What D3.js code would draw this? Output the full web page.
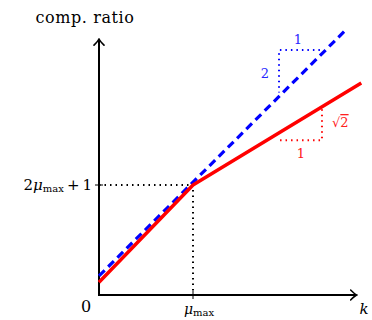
<!DOCTYPE html>
<html>
<head>
<script src="https://d3js.org/d3.v7.min.js"></script>
<style>
  body{margin:0;background:#fff;}
  .axis{stroke:#000;stroke-width:2;fill:none;}
  .guide{stroke:#000;stroke-width:2;stroke-dasharray:1.5,4;fill:none;}
</style>
</head>
<body>
<script>
// data units: k in units of mu_max, ratio in units where 2*mu_max+1 = 3
var muMax = 1, kinkRatio = 3;
var kMax = 2.73, ratioMax = 6.95;
var redLine = [{k:0, r:0.35}, {k:1, r:3}, {k:2.79, r:5.78}];
var blueLine = [{k:0, r:0.52}, {k:2.61, r:7.19}];
var blueTri = [{k:2.35, r:6.68}, {k:1.915, r:6.68}, {k:1.915, r:5.52}];
var redTri = [{k:1.926, r:4.22}, {k:2.372, r:4.22}, {k:2.372, r:5.1}];

var svg = d3.select("body").append("svg").attr("width",372).attr("height",320)
  .attr("font-family","'DejaVu Serif','Liberation Serif',serif");

var x = d3.scaleLinear().domain([0,1]).range([99,193]);
var y = d3.scaleLinear().domain([0,3]).range([295,185]);

svg.append("defs").append("marker")
  .attr("id","arr").attr("viewBox","-6 -6 8 12").attr("markerWidth",8).attr("markerHeight",12)
  .attr("markerUnits","userSpaceOnUse").attr("orient","auto")
  .append("path").attr("d","M-5,-5 Q-1,-1 1,0 Q-1,1 -5,5")
  .attr("fill","none").attr("stroke","#000").attr("stroke-width",1.6).attr("stroke-linecap","round");

var line = d3.line().x(function(d){return x(d.k)}).y(function(d){return y(d.r)});

// guides
svg.append("path").attr("class","guide")
  .attr("d", line([{k:0,r:kinkRatio},{k:muMax,r:kinkRatio},{k:muMax,r:0}]));

// axes
svg.append("line").attr("class","axis").attr("x1",x(0)-1).attr("y1",y(0)).attr("x2",x(kMax)).attr("y2",y(0)).attr("marker-end","url(#arr)");
svg.append("line").attr("class","axis").attr("x1",x(0)).attr("y1",y(0)+1).attr("x2",x(0)).attr("y2",y(ratioMax)).attr("marker-end","url(#arr)");
svg.append("line").attr("stroke","#000").attr("stroke-width",1).attr("x1",x(muMax)).attr("x2",x(muMax)).attr("y1",y(0)-4).attr("y2",y(0)+4);
svg.append("line").attr("stroke","#000").attr("stroke-width",1).attr("x1",x(0)-4).attr("x2",x(0)+4).attr("y1",y(kinkRatio)).attr("y2",y(kinkRatio));

// lines
svg.append("path").attr("d",line(blueLine)).attr("fill","none").attr("stroke","#0000ff")
  .attr("stroke-width",3.2).attr("stroke-dasharray","8,5");
svg.append("path").attr("d",line(redLine)).attr("fill","none").attr("stroke","#ff0000")
  .attr("stroke-width",3.5).attr("stroke-linejoin","round");

// slope triangles
svg.append("path").attr("d",line(blueTri)).attr("fill","none").attr("stroke","#0000ff")
  .attr("stroke-width",2).attr("stroke-dasharray","1.5,4");
svg.append("path").attr("d",line(redTri)).attr("fill","none").attr("stroke","#ff0000")
  .attr("stroke-width",2).attr("stroke-dasharray","1.5,4");

// labels
svg.append("text").attr("x",85).attr("y",23).attr("text-anchor","middle").attr("font-size",16)
  .attr("letter-spacing",0.6).text("comp. ratio");
svg.append("text").attr("x",86).attr("y",312).attr("text-anchor","middle").attr("font-size",16).text("0");
svg.append("text").attr("x",364).attr("y",314).attr("text-anchor","middle").attr("font-size",15).attr("font-style","italic").text("k");

var mu = svg.append("text").attr("x",x(muMax)+6).attr("y",314).attr("text-anchor","middle").attr("font-size",14);
mu.append("tspan").attr("font-style","italic").text("μ");
mu.append("tspan").attr("font-size",10).attr("dy",2).text("max");

var yl = svg.append("text").attr("x",92).attr("y",190).attr("text-anchor","end").attr("font-size",15);
yl.append("tspan").text("2");
yl.append("tspan").attr("font-style","italic").text("μ");
yl.append("tspan").attr("font-size",10).attr("dy",2).text("max");
yl.append("tspan").attr("dy",-2).attr("dx",3).text("+");
yl.append("tspan").attr("dx",3).text("1");

svg.append("text").attr("x",298).attr("y",44).attr("text-anchor","middle").attr("font-size",13).attr("fill","#2828ff").text("1");
svg.append("text").attr("x",265).attr("y",78).attr("text-anchor","middle").attr("font-size",13).attr("fill","#2828ff").text("2");
svg.append("text").attr("x",301).attr("y",158).attr("text-anchor","middle").attr("font-size",13).attr("fill","#ff2020").text("1");
var sq = svg.append("text").attr("x",332).attr("y",127).attr("font-size",13).attr("fill","#ff2020");
sq.append("tspan").text("√");
sq.append("tspan").attr("text-decoration","overline").text("2");
</script>
</body>
</html>
